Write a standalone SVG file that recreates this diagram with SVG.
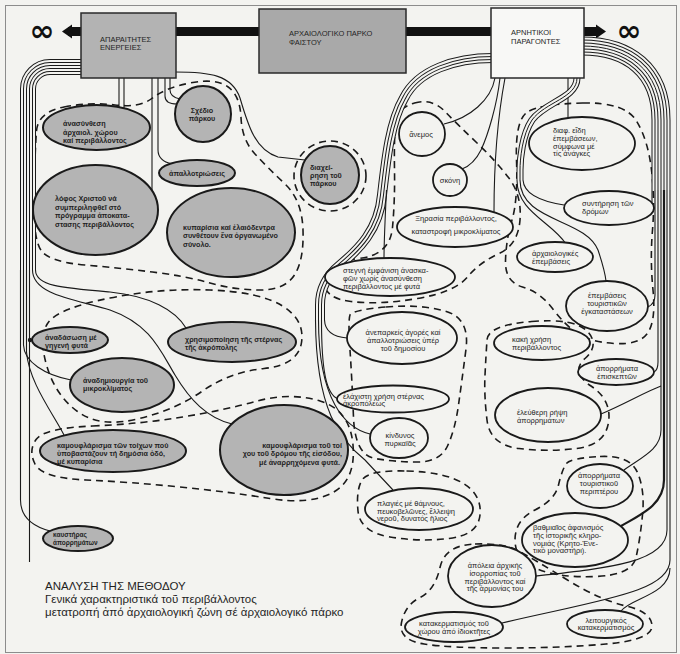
<svg xmlns="http://www.w3.org/2000/svg" width="680" height="654" viewBox="0 0 680 654">
<style>
.bg{fill:#f3f3f0}
.frame{fill:none;stroke:#8c8c8c;stroke-width:1}
.box{stroke:#2a2a2a;stroke-width:1.5}
.g{fill:#b4b4b4;stroke:#1a1a1a;stroke-width:2}
.w{fill:#f3f3f0;stroke:#1a1a1a;stroke-width:1.8}
.ln{fill:none;stroke:#1a1a1a;stroke-width:1.1}
.thick{stroke-width:2.2}
.d{fill:none;stroke:#1a1a1a;stroke-width:1.6;stroke-dasharray:7 5}
.k1,.k4,.k7,.k10,.k13,.k16,.k19{fill:none;stroke:#1a1a1a}
.p2,.p5,.p8,.p11,.p14,.p17{fill:none;stroke:#f3f3f0}
.k1{stroke-width:1}.k4{stroke-width:4}.k7{stroke-width:7}.k10{stroke-width:10}.k13{stroke-width:13}.k16{stroke-width:16}.k19{stroke-width:19}
.p2{stroke-width:2}.p5{stroke-width:5}.p8{stroke-width:8}.p11{stroke-width:11}.p14{stroke-width:14}.p17{stroke-width:17}
text{font-family:"Liberation Sans","DejaVu Sans",Arial,sans-serif;fill:#1f1f1f}
.tg{font-size:7.2px;font-weight:bold}
.tw{font-size:7.5px}
.ts{font-size:6.5px;font-weight:bold}
.tb{font-size:7.5px}
.tc{font-size:11.5px}
.inf{font-family:"DejaVu Sans",sans-serif;font-size:30px;font-weight:bold;fill:#111}
.m{text-anchor:middle}
.e{text-anchor:end}
</style>
<defs>
<path id="bL" d="M83,67 L50,67 A22,22 0 0 0 28,89 L28,270"/>
<path id="bM" d="M493,58 C455,58 418,70 404,98 C390,122 386,160 382,195 C379,230 358,250 340,265 C324,278 320,292 320,305 L320,320"/>
<path id="bR3" d="M577,78 C577,98 545,102 532,120 C522,135 520,160 520,170 L520,180"/>
<path id="bR" d="M582,46 C628,46 661,70 661,120 L661,190"/>
</defs>
<rect class="bg" x="0" y="0" width="680" height="654"/>
<rect class="frame" x="5.5" y="5.5" width="671" height="647"/>

<g id="groupings">
<path class="d" d="M64,107 Q90,102 115,105 Q140,108 152.5,98 Q165,88 190,83 Q215,78 227.5,86.5 Q240,95 241,117.5 Q242,140 255,154 Q268,168 285,184 Q302,200 303,230 Q304,260 294.5,275 Q285,290 260,290 Q235,290 210,283 Q185,276 152.5,272 Q120,268 85,265 Q50,262 41.5,251 Q33,240 34,195 Q35,150 36.5,131 Q38,112 64,107 Z"/>
<ellipse class="d" cx="330" cy="176" rx="36" ry="35"/>
<path class="d" d="M414.5,103 Q432,98 445,111.5 Q458,125 476.5,142.5 Q495,160 508.5,177.5 Q522,195 520,220 Q518,245 499,253.5 Q480,262 467.5,277 Q455,292 417.5,298.5 Q380,305 351,301.5 Q322,298 325,280 Q328,262 359,258.5 Q390,255 392.5,227.5 Q395,200 394.5,170 Q394,140 395.5,124 Q397,108 414.5,103 Z"/>
<path class="d" d="M386,307 Q420,304 445,311 Q470,318 466,349 Q462,380 458.5,405 Q455,430 447.5,446 Q440,462 417.5,462 Q395,462 375,458.5 Q355,455 353.5,417.5 Q352,380 350,350 Q348,320 350,315 Q352,310 386,307 Z"/>
<path class="d" d="M406.5,471 Q445,472 463.5,483.5 Q482,495 480,515 Q478,535 449,538.5 Q420,542 390,537 Q360,532 358,511 Q356,490 362,480 Q368,470 406.5,471 Z"/>
<path class="d" d="M475,544 Q505,543 520,551.5 Q535,560 567.5,580 Q600,600 626,606 Q652,612 652,626 Q652,640 606,644 Q560,648 505,648 Q450,648 424,644 Q398,640 401.5,622.5 Q405,605 420,597.5 Q435,590 440,567.5 Q445,545 475,544 Z"/>
<path class="d" d="M600,456.5 Q630,455 637.5,472.5 Q645,490 642.5,515 Q640,540 636,557.5 Q632,575 596,576.5 Q560,578 537.5,569 Q515,560 515,540 Q515,520 535,510 Q555,500 558.5,485 Q562,470 566,464 Q570,458 600,456.5 Z"/>
<path class="d" d="M531.5,321.5 Q575,318 587.5,331.5 Q600,345 585,358.5 Q570,372 591,386 Q612,400 608.5,422.5 Q605,445 576.5,448.5 Q548,452 519,448.5 Q490,445 487,420 Q484,395 485,375 Q486,355 487,340 Q488,325 531.5,321.5 Z"/>
<path class="d" d="M582.5,103 Q625,102 636.5,121 Q648,140 651.5,170 Q655,200 652.5,230 Q650,260 653,290 Q656,320 648,332.5 Q640,345 615,343.5 Q590,342 577.5,333.5 Q565,325 552.5,308.5 Q540,292 522.5,287 Q505,282 505.5,261 Q506,240 512,220 Q518,200 516.5,160 Q515,120 527.5,112 Q540,104 582.5,103 Z"/>
<path class="d" d="M110,298 Q160,288 210,290 Q260,292 282.5,306 Q305,320 301.5,342.5 Q298,365 264,368.5 Q230,372 202.5,391 Q175,410 137.5,419 Q100,428 77.5,411.5 Q55,395 46.5,365 Q38,335 49,321.5 Q60,308 110,298 Z"/>
<path class="d" d="M92.5,426 Q140,424 182.5,417 Q225,410 257.5,401 Q290,392 320,401 Q350,410 353,445 Q356,480 333,492.5 Q310,505 270,498.5 Q230,492 180,487 Q130,482 86,480 Q42,478 35,464 Q28,450 36.5,439 Q45,428 92.5,426 Z"/>
</g>

<g id="connectors">
<rect x="68" y="27" width="530" height="9" fill="#111"/>
<polygon points="62,31.5 72,24.5 72,38.5" fill="#111"/>
<polygon points="606,31.5 596,24.5 596,38.5" fill="#111"/>
<use href="#bL" class="k16"/><use href="#bL" class="p14"/><use href="#bL" class="k10"/><use href="#bL" class="p8"/><use href="#bL" class="k4"/><use href="#bL" class="p2"/>
<path class="ln" d="M20.5,270 L20.5,500 C20.5,518 35,527 50,531"/>
<path class="ln" d="M23.5,270 L23.5,345 C24,362 45,375 71,380"/>
<path class="ln" d="M26.5,270 L26.5,352 C29,382 52,412 64,435"/>
<path class="ln" d="M29.5,270 L29.5,562"/>
<path class="ln" d="M32.5,270 C32.5,296 80,300 110,310 C150,324 160,350 175,375 C190,400 207,418 232,424"/>
<path class="ln" d="M35.5,270 C35.5,286 62,288 110,292 C150,296 175,310 186,328"/>
<circle cx="30" cy="340" r="2.2" fill="#1a1a1a"/>
<path class="ln" d="M119,78 L119,108"/>
<path class="ln" d="M124,78 L124,109"/>
<path class="ln" d="M152,78 L152,191"/>
<path class="ln" d="M158,78 L158,150 C158,158 163,162 172,164"/>
<path class="ln" d="M165,78 L165,96 C165,102 170,104 177,104"/>
<path class="ln" d="M170,78 L170,90 C170,96 175,98 180,99"/>
<path class="ln" d="M175,72 C210,72 232,75 240,98 C248,125 255,150 278,157 L305,160"/>
<use href="#bM" class="k10"/><use href="#bM" class="p8"/><use href="#bM" class="k4"/><use href="#bM" class="p2"/>
<path class="ln" d="M386.5,190 C385,220 384,240 384,259"/>
<path class="ln" d="M324.5,320 C325,332 335,337 347,338"/>
<path class="ln" d="M321.5,320 C321.5,370 326,394 338,399"/>
<path class="ln" d="M318.5,320 C318.5,400 345,428 370,434"/>
<path class="ln" d="M315.5,320 C316,410 340,440 365,460 L393,490"/>
<path class="ln" d="M495,78 C491,100 470,118 444,124"/>
<path class="ln" d="M500,78 C497,105 488,135 481,150 C476,160 470,166 462,169"/>
<path class="ln" d="M505,78 C499,110 494,150 494,212"/>
<path class="ln" d="M568,78 L568,118"/>
<use href="#bR3" class="k7"/><use href="#bR3" class="p5"/><use href="#bR3" class="k1"/>
<path class="ln" d="M523,180 C524,196 545,202 564,205"/>
<path class="ln" d="M520,180 C520,222 585,218 598,250 C602,262 605,272 606,281"/>
<path class="ln" d="M517,180 C517,212 552,222 566,244"/>
<use href="#bR" class="k19"/><use href="#bR" class="p17"/><use href="#bR" class="k13"/><use href="#bR" class="p11"/><use href="#bR" class="k7"/><use href="#bR" class="p5"/><use href="#bR" class="k1"/>
<path class="ln" d="M652,190 L652,208"/>
<path class="ln" d="M655,190 L655,295 C655,302 652,305 648,307"/>
<path class="ln" d="M658,190 L658,362 C658,368 656,371 654,372"/>
<path class="ln" d="M661,190 L661,430 C661,450 640,458 624,470"/>
<path class="ln thick" d="M664,190 L664,480 C664,505 640,515 621,526"/>
<path class="ln" d="M667,190 L667,530 C667,562 610,568 536,576"/>
<path class="ln" d="M670,190 L670,560 C670,592 600,600 502,623"/>
<path class="ln" d="M670,568 C670,595 630,598 621,611"/>
<path class="ln" d="M601,414 C625,404 645,392 661,386"/>
</g>

<text class="inf m" x="42" y="41">∞</text>
<text class="inf m" x="629" y="41">∞</text>

<g id="box-energeies">
<rect class="box" x="81" y="13" width="95" height="65" fill="#b3b3b3"/>
<text class="tb" x="100" y="41.5">ΑΠΑΡΑΙΤΗΤΕΣ</text>
<text class="tb" x="100" y="50">ΕΝΕΡΓΕΙΕΣ</text>
</g>
<g id="box-parko">
<rect class="box" x="259" y="9" width="147" height="64" fill="#a9a9a9"/>
<text class="tb" x="289" y="36">ΑΡΧΑΙΟΛΟΓΙΚΟ ΠΑΡΚΟ</text>
<text class="tb" x="289" y="44.5">ΦΑΙΣΤΟΥ</text>
</g>
<g id="box-arnitikoi">
<rect class="box" x="491" y="8" width="93" height="70" fill="#f8f8f6"/>
<text class="tb" x="511" y="35">ΑΡΝΗΤΙΚΟΙ</text>
<text class="tb" x="511" y="43.5">ΠΑΡΑΓΟΝΤΕΣ</text>
</g>

<g id="n-anasynthesi"><ellipse class="g" cx="96.5" cy="127.5" rx="53.5" ry="22.5"/>
<text class="tg" x="63" y="126">ἀνασύνθεση</text><text class="tg" x="63" y="134.5">ἀρχαιολ. χώρου</text><text class="tg" x="63" y="143">καί περιβάλλοντος</text></g>
<g id="n-schedio"><ellipse class="g" cx="203" cy="114" rx="28" ry="28"/>
<text class="tg m" x="202" y="112.5">Σχέδιο</text><text class="tg m" x="202" y="121">πάρκου</text></g>
<g id="n-apallotriwseis"><ellipse class="g" cx="197" cy="173" rx="38" ry="13"/>
<text class="tg m" x="197" y="175.5">ἀπαλλοτριώσεις</text></g>
<g id="n-diaxeirisi"><ellipse class="g" cx="330" cy="175" rx="29" ry="29"/>
<text class="tg" x="310" y="169.5">διαχεί-</text><text class="tg" x="310" y="177.5">ρηση τοῦ</text><text class="tg" x="310" y="185.5">πάρκου</text></g>
<g id="n-lofos"><ellipse class="g" cx="95.5" cy="210" rx="62.5" ry="45"/>
<text class="tg" x="55" y="200.5">λόφος Χριστοῦ νά</text><text class="tg" x="55" y="209.5">συμπεριληφθεῖ στό</text><text class="tg" x="55" y="218">πρόγραμμα ἀποκατα-</text><text class="tg" x="55" y="226.5">στασης περιβάλλοντος</text></g>
<g id="n-kyparisia"><ellipse class="g" cx="231" cy="232.5" rx="64" ry="44.5"/>
<text class="tg" x="183" y="229.5">κυπαρίσια καί ἐλαιόδεντρα</text><text class="tg" x="183" y="238">συνθέτουν ἕνα ὀργανωμένο</text><text class="tg" x="183" y="246.5">σύνολο.</text></g>
<g id="n-anadasosi"><ellipse class="g" cx="70" cy="340" rx="38" ry="13"/>
<text class="tg" x="45" y="339.5">ἀναδάσωση μέ</text><text class="tg" x="45" y="347.5">γηγενή φυτά</text></g>
<g id="n-sterna"><ellipse class="g" cx="232" cy="342" rx="64" ry="20"/>
<text class="tg" x="185" y="341.5">χρησιμοποίηση τῆς στέρνας</text><text class="tg" x="185" y="349.5">τῆς ἀκρόπολης</text></g>
<g id="n-mikroklima"><ellipse class="g" cx="122" cy="385" rx="52" ry="27"/>
<text class="tg" x="83" y="382.5">ἀναδημιουργία τοῦ</text><text class="tg" x="83" y="391">μικροκλίματος</text></g>
<g id="n-toixoi"><ellipse class="g" cx="113" cy="451" rx="73" ry="21"/>
<text class="tg" x="57" y="447.5">καμουφλάρισμα τῶν τοίχων πού</text><text class="tg" x="57" y="455.5">ὑποβαστάζουν τή δημόσια ὁδό,</text><text class="tg" x="57" y="463.5">μέ κυπαρίσια</text></g>
<g id="n-eisodos"><ellipse class="g" cx="284" cy="450" rx="64" ry="45"/>
<text class="tg e" x="342" y="448">καμουφλάρισμα τοῦ τοί</text><text class="tg e" x="342" y="456">χου τοῦ δρόμου τῆς εἰσόδου,</text><text class="tg e" x="340" y="465">μέ ἀναρρηχόμενα φυτά.</text></g>
<g id="n-kafstiras"><ellipse class="g" cx="78" cy="538.5" rx="35" ry="12.5"/>
<text class="ts" x="53" y="537">καυστήρας</text><text class="ts" x="53" y="545">ἀπορρημάτων</text></g>

<g id="n-anemos"><ellipse class="w" cx="422" cy="134" rx="23" ry="22"/>
<text class="tw m" x="421" y="137">ἄνεμος</text></g>
<g id="n-skoni"><ellipse class="w" cx="450" cy="180" rx="17" ry="16"/>
<text class="tw m" x="450" y="182.5">σκόνη</text></g>
<g id="n-xirasia"><ellipse class="w" cx="455" cy="227" rx="58" ry="20"/>
<text class="tw m" x="456" y="220.5">Ξηρασία περιβάλλοντος,</text><text class="tw m" x="456" y="233.5">καταστροφή μικροκλίματος</text></g>
<g id="n-diaf"><ellipse class="w" cx="582" cy="143.5" rx="53" ry="26.5"/>
<text class="tw" x="553" y="132.5">διαφ. εἴδη</text><text class="tw" x="553" y="140.5">ἐπεμβάσεων,</text><text class="tw" x="553" y="148.5">σύμφωνα μέ</text><text class="tw" x="553" y="156">τίς ἀνάγκες</text></g>
<g id="n-syntirisi"><ellipse class="w" cx="609" cy="208" rx="45" ry="17"/>
<text class="tw" x="582" y="205.5">συντήρηση τῶν</text><text class="tw" x="582" y="214">δρόμων</text></g>
<g id="n-arxaiologikes"><ellipse class="w" cx="555" cy="257" rx="38" ry="15"/>
<text class="tw" x="532" y="255.5">ἀρχαιολογικές</text><text class="tw" x="532" y="264">ἐπεμβάσεις</text></g>
<g id="n-stegni"><ellipse class="w" cx="390" cy="277" rx="65" ry="19"/>
<text class="tw" x="343" y="272.5">στεγνή ἐμφάνιση ἀνασκα-</text><text class="tw" x="343" y="280.5">φῶν χωρίς ἀνασύνθεση</text><text class="tw" x="343" y="289">περιβάλλοντος μέ φυτά</text></g>
<g id="n-touristikes"><ellipse class="w" cx="607" cy="306" rx="41" ry="25"/>
<text class="tw m" x="607" y="298">ἐπεμβάσεις</text><text class="tw m" x="607" y="306">τουριστικῶν</text><text class="tw m" x="607" y="314">ἐγκαταστάσεων</text></g>
<g id="n-anepar"><ellipse class="w" cx="402" cy="338" rx="55" ry="26"/>
<text class="tw m" x="403" y="334.5">ἀνεπαρκείς ἀγορές καί</text><text class="tw m" x="403" y="342.5">ἀπαλλοτριώσεις ὑπέρ</text><text class="tw m" x="403" y="350.5">τοῦ δημοσίου</text></g>
<g id="n-kaki"><ellipse class="w" cx="542" cy="343" rx="48" ry="17"/>
<text class="tw" x="512" y="341.5">κακή χρήση</text><text class="tw" x="512" y="349.5">περιβάλλοντος</text></g>
<g id="n-episkeptes"><ellipse class="w" cx="616" cy="372" rx="38" ry="13"/>
<text class="tw m" x="617" y="370.5">ἀπορρήματα</text><text class="tw m" x="617" y="378.5">ἐπισκεπτῶν</text></g>
<g id="n-elaxisti"><ellipse class="w" cx="393" cy="399" rx="56" ry="13.5"/>
<text class="tw" x="343" y="398.5">ἐλάχιστη χρήση στέρνας</text><text class="tw" x="343" y="406">ἀκροπόλεως</text></g>
<g id="n-kindynos"><ellipse class="w" cx="399" cy="438" rx="29" ry="20"/>
<text class="tw m" x="400" y="437.5">κίνδυνος</text><text class="tw m" x="400" y="445.5">πυρκαϊᾶς</text></g>
<g id="n-eleftheri"><ellipse class="w" cx="548" cy="415" rx="53" ry="27"/>
<text class="tw" x="517" y="414.5">ἐλεύθερη ρήψη</text><text class="tw" x="517" y="422.5">ἀπορρημάτων</text></g>
<g id="n-periptero"><ellipse class="w" cx="600" cy="486" rx="33" ry="22"/>
<text class="tw m" x="599" y="477.5">ἀπορρήματα</text><text class="tw m" x="599" y="485.5">τουριστικοῦ</text><text class="tw m" x="599" y="494">περιπτέρου</text></g>
<g id="n-plagies"><ellipse class="w" cx="419" cy="509" rx="54" ry="21"/>
<text class="tw" x="377" y="505.5">πλαγιές μέ θάμνους,</text><text class="tw" x="377" y="513.5">πευκοβελῶνες, ἔλλειψη</text><text class="tw" x="377" y="521">νεροῦ, δυνατός ἥλιος</text></g>
<g id="n-vathmiaios"><ellipse class="w" cx="575" cy="540" rx="53" ry="27"/>
<text class="tw" x="533" y="529.5">βαθμιαῖος ἀφανισμός</text><text class="tw" x="533" y="537.5">τῆς ἱστορικῆς κληρο-</text><text class="tw" x="533" y="545.5">νομιάς (Κρητο-Ένε-</text><text class="tw" x="533" y="553">τικό μοναστήρι).</text></g>
<g id="n-apoleia"><ellipse class="w" cx="492" cy="576" rx="44" ry="31"/>
<text class="tw m" x="495" y="567.5">ἀπόλεια ἀρχικής</text><text class="tw m" x="495" y="575.5">ἰσορροπίας τοῦ</text><text class="tw m" x="495" y="583.5">περιβάλλοντος καί</text><text class="tw m" x="495" y="591">τῆς ἁρμονίας του</text></g>
<g id="n-katakermatismos"><ellipse class="w" cx="454" cy="627" rx="49" ry="15"/>
<text class="tw m" x="454" y="625.5">κατακερματισμός τοῦ</text><text class="tw m" x="454" y="634">χώρου ἀπό ἰδιοκτῆτες</text></g>
<g id="n-leitourgikos"><ellipse class="w" cx="605" cy="624" rx="38" ry="14"/>
<text class="tw m" x="606" y="622.5">λειτουργικός</text><text class="tw m" x="606" y="630">κατακερματισμός</text></g>

<g id="caption">
<text class="tc" x="45" y="590">ΑΝΑΛΥΣΗ ΤΗΣ ΜΕΘΟΔΟΥ</text>
<text class="tc" x="45" y="603">Γενικά χαρακτηριστικά τοῦ περιβάλλοντος</text>
<text class="tc" x="45" y="616">μετατροπή ἀπό ἀρχαιολογική ζώνη σέ ἀρχαιολογικό πάρκο</text>
</g>
</svg>
